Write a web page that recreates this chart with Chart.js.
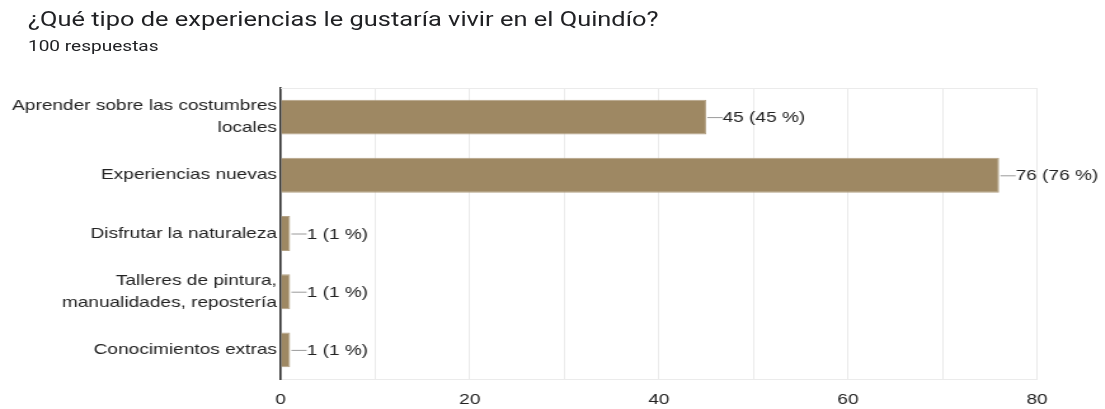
<!DOCTYPE html>
<html>
<head>
<meta charset="utf-8">
<script src="https://cdn.jsdelivr.net/npm/chart.js@4"></script>
<style>
  body { margin: 0; background: #fff; overflow: hidden; }
  /* la captura original viene estirada a lo ancho */
  #wrap { position: relative; width: 870px; height: 409px; transform: scaleX(1.27); transform-origin: 0 0; }
  #graph { position: absolute; left: 0; top: 0; }
  .titulo { position: absolute; left: 22px; top: 7px; font: 20px Roboto, sans-serif; color: #202124; white-space: nowrap; }
  .sub { position: absolute; left: 22px; top: 37px; font: 15px Roboto, sans-serif; color: #202124; white-space: nowrap; }
</style>
</head>
<body>
<div id="wrap">
  <canvas id="graph" width="870" height="409"></canvas>
  <div class="titulo">¿Qué tipo de experiencias le gustaría vivir en el Quindío?</div>
  <div class="sub">100 respuestas</div>
</div>
<script>
// Respuestas de la encuesta
var categorias = [
	['Aprender sobre las costumbres', 'locales'],
	'Experiencias nuevas',
	'Disfrutar la naturaleza',
	['Talleres de pintura,', 'manualidades, repostería'],
	'Conocimientos extras'
];
var respuestas = [45, 76, 1, 1, 1];
var porcentajes = [45, 76, 1, 1, 1];
var ticksX = [0, 20, 40, 60, 80];

var cvs = document.getElementById('graph');
var ctx = cvs.getContext('2d');

// etiquetas con su rayita al final de cada barra
var etiquetas = {
	id: 'etiquetas',
	afterDatasetsDraw: function(chart) {
		let c = chart.ctx;
		let meta = chart.getDatasetMeta(0);
		c.save();
		c.font = '15px Arial, "Liberation Sans", sans-serif';
		c.textBaseline = 'middle';
		meta.data.forEach(function(bar, i) {
			let x = bar.x, y = bar.y;
			c.strokeStyle = '#9a9a9a';
			c.lineWidth = 1;
			c.beginPath();
			c.moveTo(x + 1, y + 0.5);
			c.lineTo(x + 13, y + 0.5);
			c.stroke();
			c.fillStyle = '#222';
			c.fillText(respuestas[i] + ' (' + porcentajes[i] + ' %)', x + 13, y + 1);
		});
		c.restore();
	}
};

// linea de arriba del area
var marco = {
	id: 'marco',
	beforeDatasetsDraw: function(chart) {
		let a = chart.chartArea, c = chart.ctx;
		c.save();
		c.strokeStyle = '#ebebeb';
		c.lineWidth = 1;
		c.beginPath();
		c.moveTo(a.left, a.top + 0.5);
		c.lineTo(a.right, a.top + 0.5);
		c.stroke();
		c.restore();
	}
};

let chart = new Chart(ctx, {
	type: 'bar',
	data: {
		labels: categorias,
		datasets: [{
			data: respuestas,
			backgroundColor: '#9e8863',
			borderColor: '#b3a184',
			borderWidth: 1,
			categoryPercentage: 0.6,
			barPercentage: 1
		}]
	},
	options: {
		indexAxis: 'y',
		responsive: false,
		animation: false,
		layout: { padding: { top: 88, right: 53.5, left: 0, bottom: 0 } },
		plugins: { legend: { display: false }, tooltip: { enabled: false } },
		scales: {
			x: {
				min: 0, max: 80,
				afterFit: function(s) { s.height = 30; },
				grid: { color: '#ebebeb', drawTicks: false },
				border: { display: true, color: '#ebebeb' },
				ticks: {
					stepSize: 10,
					padding: 12,
					color: '#222',
					font: { family: 'Arial, "Liberation Sans", sans-serif', size: 15 },
					callback: function(v) { return ticksX.indexOf(v) >= 0 ? v : ''; }
				}
			},
			y: {
				afterFit: function(s) { s.width = 221; },
				grid: { display: false, drawTicks: false },
				border: { color: '#333', width: 1.6 },
				ticks: {
					padding: 3,
					color: '#222',
					font: { family: 'Arial, "Liberation Sans", sans-serif', size: 15, lineHeight: 1.45 }
				}
			}
		}
	},
	plugins: [etiquetas, marco]
});
</script>
</body>
</html>
